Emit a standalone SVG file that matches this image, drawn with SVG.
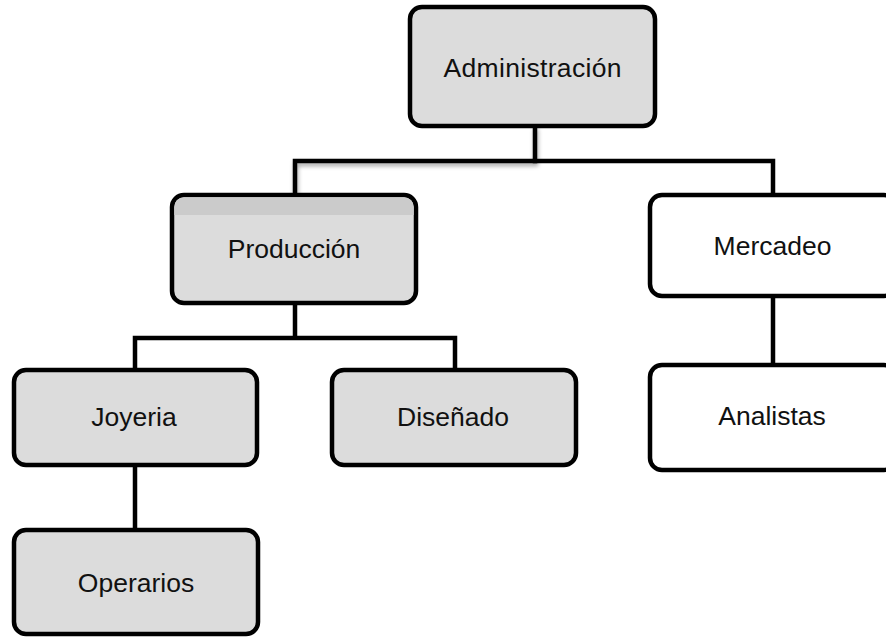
<svg xmlns="http://www.w3.org/2000/svg" width="886" height="638" viewBox="0 0 886 638">
<style>
.box{stroke:#000;stroke-width:4.5}
.g{fill:#dcdcdc}
.w{fill:#fff}
.lbl{font-family:"Liberation Sans",Arial,sans-serif;font-size:26.5px;fill:#111;text-anchor:middle}
.con{fill:none;stroke:#000;stroke-width:4.5;stroke-linecap:square}
</style>
<defs>
<filter id="sh" x="-10%" y="-50%" width="120%" height="200%">
<feGaussianBlur in="SourceAlpha" stdDeviation="2"/>
<feOffset dx="1" dy="3" result="b"/>
<feComponentTransfer><feFuncA type="linear" slope="0.35"/></feComponentTransfer>
<feMerge><feMergeNode/><feMergeNode in="SourceGraphic"/></feMerge>
</filter>
</defs>
<rect width="886" height="638" fill="#fff"/>
<g id="connectors">
<path class="con" filter="url(#sh)" d="M535 128 V161 M295 193 V161 H535"/>
<path class="con" d="M535 161 H773 V193"/>
<path class="con" d="M295 305 V338 M135 368 V338 H455 V368"/>
<path class="con" d="M135 467 V528"/>
<path class="con" d="M773 298 V363"/>
</g>
<g id="administracion">
<rect class="box g" x="410" y="7" width="245" height="119" rx="12"/>
<text class="lbl" x="532.5" y="77" textLength="178" lengthAdjust="spacing">Administración</text>
</g>
<g id="produccion">
<rect class="box g" x="172" y="195" width="244" height="108" rx="12"/>
<path d="M184 197.3 H404 A9.7 9.7 0 0 1 413.7 207 V215 H174.3 V207 A9.7 9.7 0 0 1 184 197.3 Z" fill="#cbcbcb"/>
<text class="lbl" x="294" y="258">Producción</text>
</g>
<g id="mercadeo">
<rect class="box w" x="650" y="195" width="246" height="101" rx="12"/>
<text class="lbl" x="772.5" y="255">Mercadeo</text>
</g>
<g id="analistas">
<rect class="box w" x="650" y="365" width="246" height="105" rx="12"/>
<text class="lbl" x="772" y="425">Analistas</text>
</g>
<g id="joyeria">
<rect class="box g" x="14" y="370" width="243" height="95" rx="12"/>
<text class="lbl" x="134" y="426">Joyeria</text>
</g>
<g id="disenado">
<rect class="box g" x="332" y="370" width="244" height="95" rx="12"/>
<text class="lbl" x="453" y="426">Diseñado</text>
</g>
<g id="operarios">
<rect class="box g" x="14" y="530" width="244" height="104" rx="12"/>
<text class="lbl" x="136" y="592">Operarios</text>
</g>
</svg>
